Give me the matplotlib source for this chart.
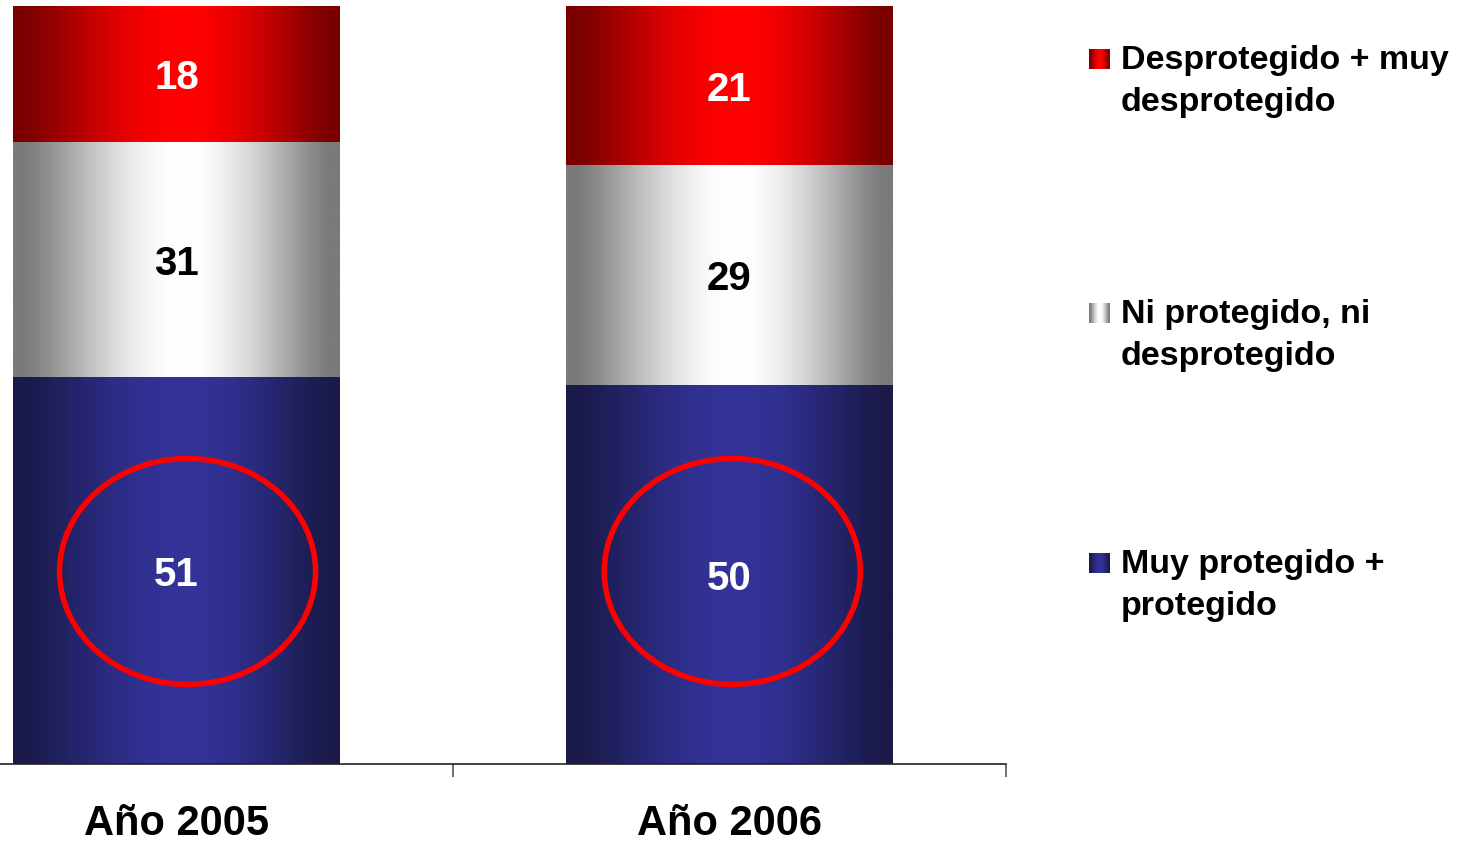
import numpy as np
import matplotlib
matplotlib.use("Agg")
import matplotlib.pyplot as plt
import matplotlib.transforms as mtransforms
from matplotlib.patches import Ellipse

# Data
years = ["Año 2005", "Año 2006"]
protegido = [51, 50]          # Muy protegido + protegido
neutral = [31, 29]            # Ni protegido, ni desprotegido
desprotegido = [18, 21]       # Desprotegido + muy desprotegido
series_labels = [["Desprotegido + muy", "desprotegido"],
                 ["Ni protegido, ni", "desprotegido"],
                 ["Muy protegido +", "protegido"]]

# (edge colour, centre colour) for the cylinder-like shading
shades = {
    "blue": ("#1a1a4a", "#333399"),
    "grey": ("#7a7a7a", "#ffffff"),
    "red": ("#7a0000", "#ff0000"),
}

FONT = ["Liberation Sans", "DejaVu Sans"]


def gradient_strip(edge, centre, n=256, peak=0.52):
    t = np.linspace(0, 1, n)
    f = np.where(t < peak, t / peak, (1 - t) / (1 - peak))
    f = np.clip((f - 0.05) / 0.95, 0, 1)
    f = np.sin(f * np.pi / 2) ** 1.3
    e = np.array(matplotlib.colors.to_rgb(edge))
    c = np.array(matplotlib.colors.to_rgb(centre))
    return (e[None, :] + (c - e)[None, :] * f[:, None])[None, :, :]


W, H = 1467, 844
fig = plt.figure(figsize=(W / 100, H / 100), dpi=100)
ax = fig.add_axes([-100 / W, 80 / H, 1106 / W, 758 / H])

x = np.arange(len(years))
width = 0.59
bottoms_neutral = np.array(protegido)
bottoms_red = bottoms_neutral + np.array(neutral)

layers = [
    (protegido, np.zeros(len(years)), "blue", "white"),
    (neutral, bottoms_neutral, "grey", "black"),
    (desprotegido, bottoms_red, "red", "white"),
]

for vals, bottom, shade, txtcol in layers:
    bars = ax.bar(x, vals, bottom=bottom, width=width, color="none",
                  linewidth=0, zorder=2)
    img = gradient_strip(*shades[shade])
    for bar, v in zip(bars, vals):
        x0, y0 = bar.get_x(), bar.get_y()
        ax.imshow(img, extent=(x0, x0 + bar.get_width(), y0, y0 + bar.get_height()),
                  aspect="auto", interpolation="bilinear", zorder=1)
        ax.text(bar.get_x() + bar.get_width() / 2, y0 + bar.get_height() / 2,
                f"{v}", ha="center", va="center_baseline", fontsize=29,
                fontweight="bold", color=txtcol, family=FONT, zorder=4)

# Highlight rings around the "protected" share
ring_dx = [0.02, 0.005]
for xi, dx in zip(x, ring_dx):
    ax.add_patch(Ellipse((xi + dx, 25.4), width=0.463, height=29.8,
                         fill=False, edgecolor="#ff0000", linewidth=4, zorder=3))

ax.set_xlim(-0.5, 1.5)
ax.set_ylim(0, 100)
for side in ("top", "right", "left"):
    ax.spines[side].set_visible(False)
ax.spines["bottom"].set_color("#222222")
ax.spines["bottom"].set_linewidth(1.2)
ax.set_yticks([])
ax.set_xticks(x)
ax.set_xticklabels([])
ax.tick_params(axis="x", which="major", length=0)
ax.set_xticks([-0.5, 0.5, 1.5], minor=True)
ax.tick_params(axis="x", which="minor", length=9.5, width=1.2,
               color="#555555", direction="out")

trans = mtransforms.blended_transform_factory(ax.transData, ax.transAxes)
for xi, lab in zip(x, years):
    ax.text(xi, (764 - 835) / 758, lab, transform=trans, ha="center",
            va="baseline", fontsize=30, fontweight="bold", family=FONT,
            color="black")

# Legend drawn in figure pixel coordinates
lax = fig.add_axes([0, 0, 1, 1])
lax.set_xlim(0, W)
lax.set_ylim(H, 0)
lax.axis("off")
legend_rows = [("red", 69), ("grey", 323), ("blue", 573)]
for (shade, base), lines in zip(legend_rows, series_labels):
    lax.imshow(gradient_strip(*shades[shade]),
               extent=(1089, 1110, base, base - 20),
               aspect="auto", interpolation="bilinear")
    for k, line in enumerate(lines):
        lax.text(1121, base + 42 * k, line, ha="left", va="baseline",
                 fontsize=24.5, fontweight="bold", family=FONT, color="black")
lax.set_xlim(0, W)
lax.set_ylim(H, 0)

fig.savefig("out.png", dpi=100)
